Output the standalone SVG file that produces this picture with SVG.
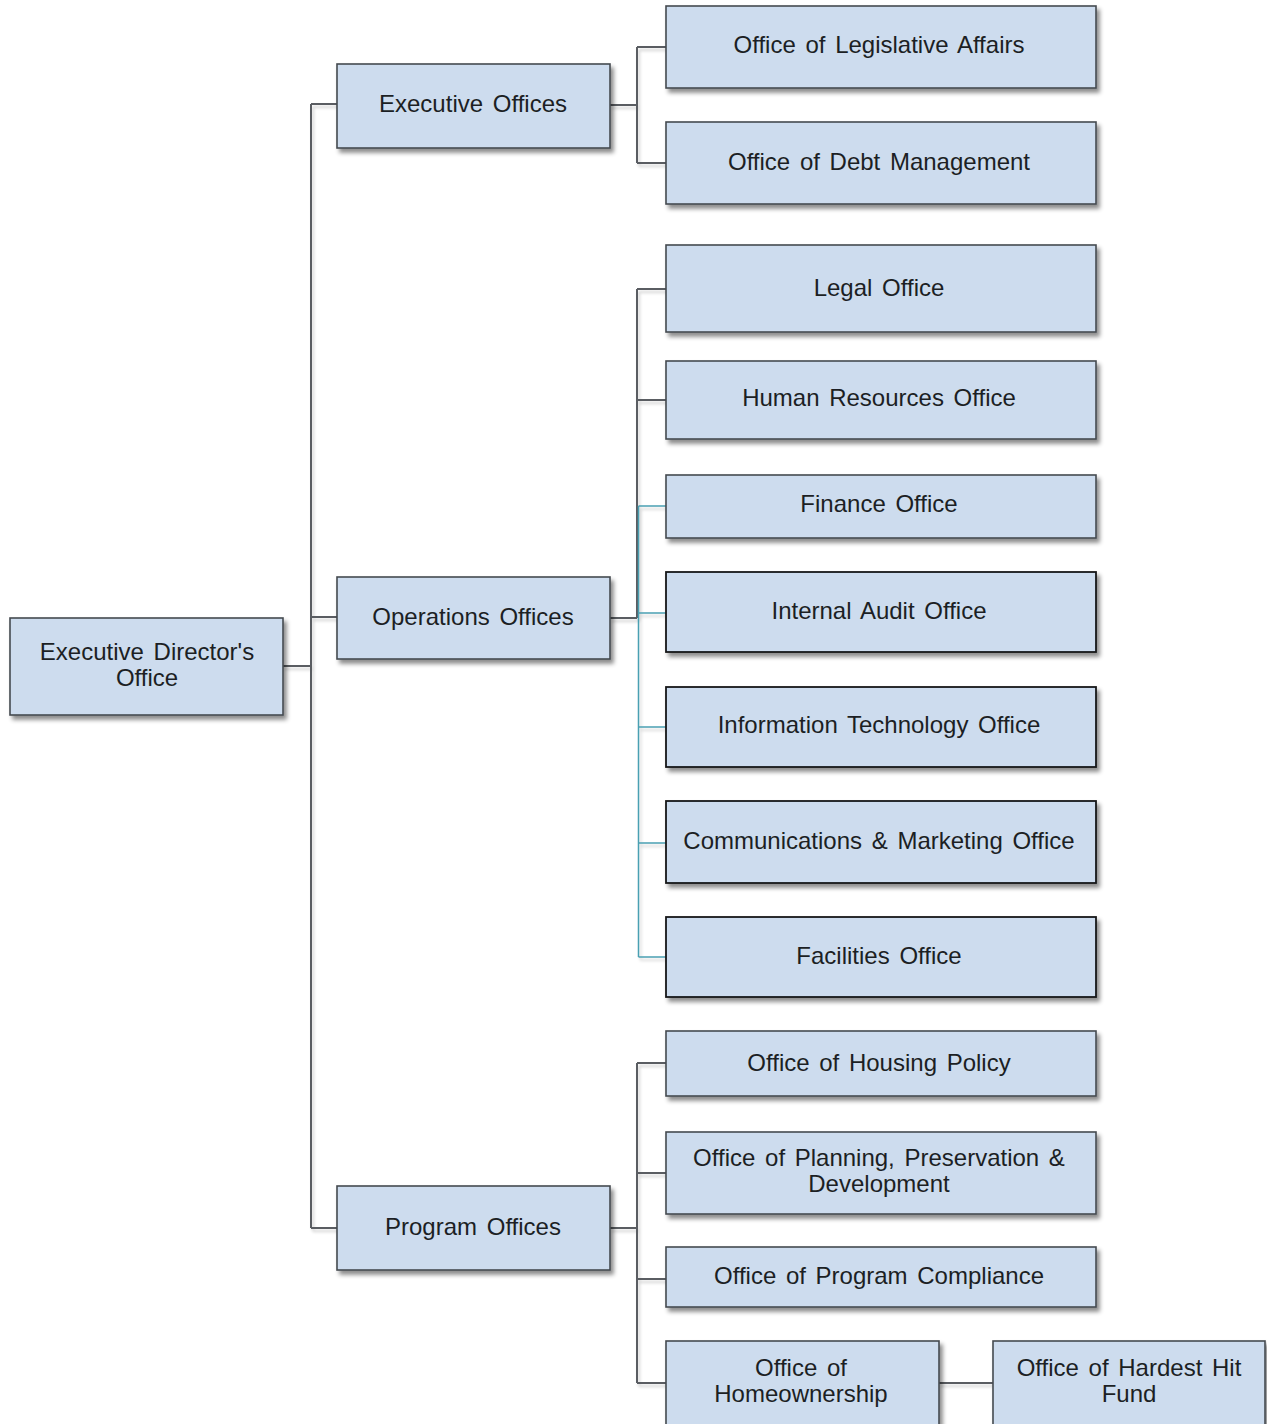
<svg xmlns="http://www.w3.org/2000/svg" width="1267" height="1424" viewBox="0 0 1267 1424">
  <defs>
    <filter id="shadow" x="-5%" y="-10%" width="115%" height="130%">
      <feDropShadow dx="3" dy="4" stdDeviation="2" flood-color="#000" flood-opacity="0.45"/>
    </filter>
    <filter id="lineShadow" filterUnits="userSpaceOnUse" x="0" y="0" width="1267" height="1424">
      <feDropShadow dx="2" dy="3" stdDeviation="1.5" flood-color="#000" flood-opacity="0.18"/>
    </filter>
  </defs>
  <style>
    .box { fill: #cddcee; stroke: #454a50; stroke-width: 1.6; filter: url(#shadow); }
    .box.dark { stroke: #15171a; stroke-width: 1.8; }
    .lbl { font-family: "Liberation Sans", Arial, sans-serif; font-size: 24px; fill: #1c1f24; text-anchor: middle; word-spacing: 3px; }
    .wire { fill: none; stroke: #5a5d62; stroke-width: 2; filter: url(#lineShadow); }
    .wire.teal { stroke: #4aa0b2; stroke-width: 1.5; }
  </style>
  <rect width="1267" height="1424" fill="#ffffff"/>

  <!-- connectors -->
  <g id="connectors">
    <!-- root to level 1 -->
    <path class="wire" d="M283 666 H311 M311 104 V1228 M311 104 H337 M311 617 H337 M311 1228 H337"/>
    <!-- executive offices -->
    <path class="wire" d="M610 105 H637 M637 47 V163 M637 47 H666 M637 163 H666"/>
    <!-- operations offices -->
    <path class="wire" d="M610 618 H637 M637 289 V618 M637 289 H666 M637 400 H666"/>
    <path class="wire teal" d="M638.5 506 V957 M638.5 506 H666 M638.5 613 H666 M638.5 727 H666 M638.5 843 H666 M638.5 957 H666"/>
    <!-- program offices -->
    <path class="wire" d="M610 1228 H637 M637 1063 V1383 M637 1063 H666 M637 1173 H666 M637 1279 H666 M637 1383 H666"/>
    <!-- homeownership to hardest hit fund -->
    <path class="wire" d="M939 1383 H993"/>
  </g>

  <!-- root -->
  <g id="exec-director">
    <rect class="box" x="10" y="618" width="273" height="97"/>
    <text class="lbl" x="147" y="660">Executive Director's</text>
    <text class="lbl" x="147" y="686">Office</text>
  </g>

  <!-- level 1 -->
  <g id="executive-offices">
    <rect class="box" x="337" y="64" width="273" height="84"/>
    <text class="lbl" x="473" y="112">Executive Offices</text>
  </g>
  <g id="operations-offices">
    <rect class="box" x="337" y="577" width="273" height="82"/>
    <text class="lbl" x="473" y="625">Operations Offices</text>
  </g>
  <g id="program-offices">
    <rect class="box" x="337" y="1186" width="273" height="84"/>
    <text class="lbl" x="473" y="1235">Program Offices</text>
  </g>

  <!-- executive branch -->
  <g id="legislative-affairs">
    <rect class="box" x="666" y="6" width="430" height="82"/>
    <text class="lbl" x="879" y="53">Office of Legislative Affairs</text>
  </g>
  <g id="debt-management">
    <rect class="box" x="666" y="122" width="430" height="82"/>
    <text class="lbl" x="879" y="170">Office of Debt Management</text>
  </g>

  <!-- operations branch -->
  <g id="legal-office">
    <rect class="box" x="666" y="245" width="430" height="87"/>
    <text class="lbl" x="879" y="296">Legal Office</text>
  </g>
  <g id="human-resources">
    <rect class="box" x="666" y="361" width="430" height="78"/>
    <text class="lbl" x="879" y="406">Human Resources Office</text>
  </g>
  <g id="finance-office">
    <rect class="box" x="666" y="475" width="430" height="63"/>
    <text class="lbl" x="879" y="512">Finance Office</text>
  </g>
  <g id="internal-audit">
    <rect class="box dark" x="666" y="572" width="430" height="80"/>
    <text class="lbl" x="879" y="619">Internal Audit Office</text>
  </g>
  <g id="information-technology">
    <rect class="box dark" x="666" y="687" width="430" height="80"/>
    <text class="lbl" x="879" y="733">Information Technology Office</text>
  </g>
  <g id="communications-marketing">
    <rect class="box dark" x="666" y="801" width="430" height="82"/>
    <text class="lbl" x="879" y="849">Communications &amp; Marketing Office</text>
  </g>
  <g id="facilities-office">
    <rect class="box dark" x="666" y="917" width="430" height="80"/>
    <text class="lbl" x="879" y="964">Facilities Office</text>
  </g>

  <!-- program branch -->
  <g id="housing-policy">
    <rect class="box" x="666" y="1031" width="430" height="65"/>
    <text class="lbl" x="879" y="1071">Office of Housing Policy</text>
  </g>
  <g id="planning-preservation">
    <rect class="box" x="666" y="1132" width="430" height="82"/>
    <text class="lbl" x="879" y="1166">Office of Planning, Preservation &amp;</text>
    <text class="lbl" x="879" y="1192">Development</text>
  </g>
  <g id="program-compliance">
    <rect class="box" x="666" y="1247" width="430" height="60"/>
    <text class="lbl" x="879" y="1284">Office of Program Compliance</text>
  </g>
  <g id="homeownership">
    <rect class="box" x="666" y="1341" width="273" height="84"/>
    <text class="lbl" x="801" y="1376">Office of</text>
    <text class="lbl" x="801" y="1402">Homeownership</text>
  </g>
  <g id="hardest-hit-fund">
    <rect class="box" x="993" y="1341" width="272" height="84"/>
    <text class="lbl" x="1129" y="1376">Office of Hardest Hit</text>
    <text class="lbl" x="1129" y="1402">Fund</text>
  </g>
</svg>
